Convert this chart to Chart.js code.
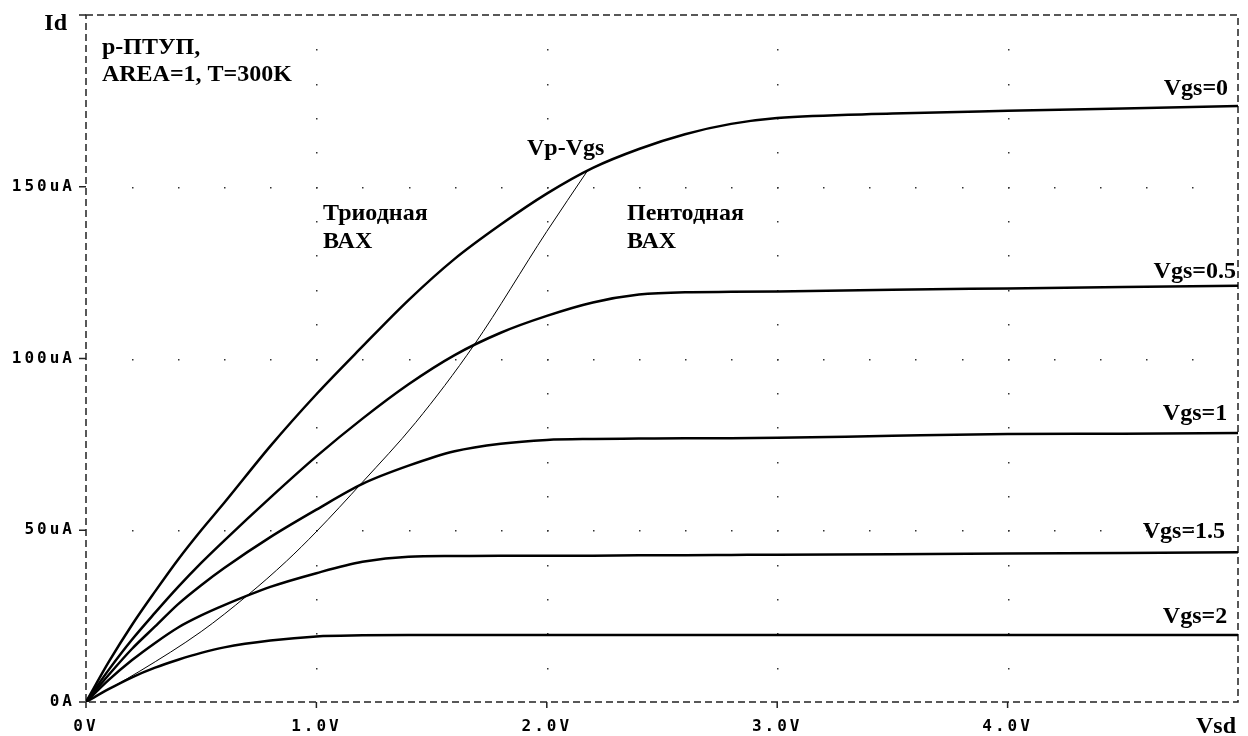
<!DOCTYPE html>
<html>
<head>
<meta charset="utf-8">
<script src="https://cdn.jsdelivr.net/npm/chart.js@4.4.1/dist/chart.umd.min.js"></script>
<style>
  html, body { margin: 0; padding: 0; background: #fff; }
  #wrap { width: 1248px; height: 736px; }
</style>
</head>
<body>
<div id="wrap"><canvas id="chart" width="1248" height="736"></canvas></div>
<script>
// Vsd sweep (V) and drain current (uA) for each gate voltage
const vsd    = [0, 0.1, 0.2, 0.3, 0.4, 0.5, 0.6, 0.8, 1.0, 1.2, 1.4, 1.6, 1.8, 2.0, 2.2, 2.4, 2.6, 2.8, 3.0, 3.5, 4.0, 4.5, 5.0];
const idVgs0   = [0, 11.8, 22.5, 32.2, 41.5, 50, 58, 74.5, 89.6, 103.5, 117, 129, 139, 148, 155.5, 161, 165.3, 168.3, 170, 171.3, 172.1, 172.8, 173.5];
const idVgs05  = [0, 9.5, 18.2, 26, 33.5, 40.5, 47, 59.5, 71.5, 82.5, 92.5, 101, 107.5, 112.4, 116.3, 118.6, 119.3, 119.4, 119.5, 120, 120.4, 120.8, 121.2];
const idVgs1   = [0, 8, 15.5, 22, 28.5, 34, 39, 48, 56, 63.5, 68.8, 73, 75.2, 76.3, 76.6, 76.7, 76.8, 76.8, 76.9, 77.5, 78, 78.1, 78.3];
const idVgs15  = [0, 6.5, 12.2, 17.2, 21.7, 25.2, 28.2, 33.5, 37.5, 40.8, 42.3, 42.5, 42.6, 42.6, 42.6, 42.7, 42.7, 42.8, 42.9, 43, 43.2, 43.4, 43.6];
const idVgs2   = [0, 3.8, 7.2, 10, 12.3, 14.3, 15.9, 17.9, 19.1, 19.4, 19.5, 19.5, 19.5, 19.5, 19.5, 19.5, 19.5, 19.5, 19.5, 19.5, 19.5, 19.5, 19.5];

// Vp-Vgs locus (saturation boundary)
const vpVsd = [0, 0.234, 0.5, 0.7, 0.87, 1.0, 1.2, 1.43, 1.685, 2.0, 2.18];
const vpId  = [0, 9, 20.5, 31, 41, 49.6, 64, 81.3, 104, 137, 155];

const xTickLabels = ['0V', '1.0V', '2.0V', '3.0V', '4.0V', ''];
const yTickLabels = ['0A', '50uA', '100uA', '150uA', ''];

// text notes: [text, V, uA, align]
const notes = [
  ['p-ПТУП,', 0.069, 188.7, 'left'],
  ['AREA=1, T=300K', 0.069, 180.9, 'left'],
  ['Vgs=0', 4.957, 176.8, 'right'],
  ['Vgs=0.5', 4.991, 123.5, 'right'],
  ['Vgs=1', 4.953, 82.1, 'right'],
  ['Vgs=1.5', 4.944, 47.8, 'right'],
  ['Vgs=2', 4.953, 23.0, 'right'],
  ['Vp-Vgs', 1.914, 159.3, 'left'],
  ['Триодная', 1.029, 140.4, 'left'],
  ['ВАХ', 1.029, 132.2, 'left'],
  ['Пентодная', 2.348, 140.4, 'left'],
  ['ВАХ', 2.348, 132.2, 'left']
];

const toXY = (xs, ys) => xs.map((x, i) => ({ x: x, y: ys[i] }));

const curve = (data) => ({
  data: data,
  borderColor: '#000',
  borderWidth: 2.5,
  pointRadius: 0,
  cubicInterpolationMode: 'monotone',
  fill: false
});

const NOTE_FONT = 'bold 24px "Liberation Serif", "Times New Roman", serif';

const framePlugin = {
  id: 'frame',
  beforeDraw(chart) {
    chart.ctx.letterSpacing = '3px';
  },
  beforeDatasetsDraw(chart) {
    const { ctx, chartArea: a, scales: { x, y } } = chart;
    ctx.save();
    ctx.letterSpacing = '0px';
    // dotted grid: dots along major lines at minor steps
    ctx.fillStyle = '#333';
    for (let v = 1; v <= 4; v++) {
      const px = Math.round(x.getPixelForValue(v));
      for (let i = 10; i < 200; i += 10) {
        ctx.fillRect(px, Math.round(y.getPixelForValue(i)), 1.5, 1.5);
      }
    }
    for (let i = 50; i <= 150; i += 50) {
      const py = Math.round(y.getPixelForValue(i));
      for (let k = 1; k < 25; k++) {
        ctx.fillRect(Math.round(x.getPixelForValue(k * 0.2)), py, 1.5, 1.5);
      }
    }
    // dashed frame
    ctx.strokeStyle = '#222';
    ctx.lineWidth = 1.5;
    ctx.setLineDash([7, 4]);
    ctx.strokeRect(a.left, a.top, a.right - a.left, a.bottom - a.top);
    ctx.setLineDash([]);
    // tick marks
    ctx.beginPath();
    for (let v = 0; v <= 4; v++) {
      const px = x.getPixelForValue(v);
      ctx.moveTo(px, a.bottom);
      ctx.lineTo(px, a.bottom + 6);
    }
    for (let i = 0; i <= 200; i += 50) {
      const py = y.getPixelForValue(i);
      ctx.moveTo(a.left - 7, py);
      ctx.lineTo(a.left, py);
    }
    ctx.stroke();
    ctx.restore();
  },
  afterDraw(chart) {
    const { ctx, chartArea: a, scales: { x, y } } = chart;
    ctx.save();
    ctx.letterSpacing = '0px';
    ctx.fillStyle = '#000';
    ctx.font = NOTE_FONT;
    ctx.textBaseline = 'alphabetic';
    notes.forEach(([t, v, i, al]) => {
      ctx.textAlign = al;
      ctx.fillText(t, x.getPixelForValue(v), y.getPixelForValue(i));
    });
    // axis names
    ctx.textAlign = 'right';
    ctx.fillText('Id', a.left - 19, a.top + 15);
    ctx.fillText('Vsd', a.right - 2, a.bottom + 31);
    ctx.restore();
  }
};

new Chart(document.getElementById('chart'), {
  type: 'line',
  data: {
    datasets: [
      curve(toXY(vsd, idVgs0)),
      curve(toXY(vsd, idVgs05)),
      curve(toXY(vsd, idVgs1)),
      curve(toXY(vsd, idVgs15)),
      curve(toXY(vsd, idVgs2)),
      {
        data: toXY(vpVsd, vpId),
        borderColor: '#000',
        borderWidth: 1,
        pointRadius: 0,
        cubicInterpolationMode: 'monotone',
        fill: false
      }
    ]
  },
  options: {
    responsive: false,
    animation: false,
    layout: { padding: { top: 15, right: 10, left: 0, bottom: 0 } },
    plugins: { legend: { display: false }, tooltip: { enabled: false } },
    scales: {
      x: {
        type: 'linear', min: 0, max: 5,
        grid: { display: false, drawTicks: false },
        border: { display: false },
        ticks: {
          stepSize: 1, autoSkip: false, maxRotation: 0, padding: 15,
          color: '#000',
          font: { family: '"DejaVu Sans Mono", monospace', size: 16, weight: 'bold' },
          callback: (v) => xTickLabels[Math.round(v)]
        },
        afterFit: (s) => { s.height = 34; s.paddingLeft = 0; s.paddingRight = 0; }
      },
      y: {
        type: 'linear', min: 0, max: 200,
        grid: { display: false, drawTicks: false },
        border: { display: false },
        ticks: {
          stepSize: 50, autoSkip: false, padding: 11,
          color: '#000',
          font: { family: '"DejaVu Sans Mono", monospace', size: 16, weight: 'bold' },
          callback: (v) => yTickLabels[Math.round(v / 50)]
        },
        afterFit: (s) => { s.width = 86; s.paddingTop = 0; s.paddingBottom = 0; }
      }
    }
  },
  plugins: [framePlugin]
});
</script>
</body>
</html>
